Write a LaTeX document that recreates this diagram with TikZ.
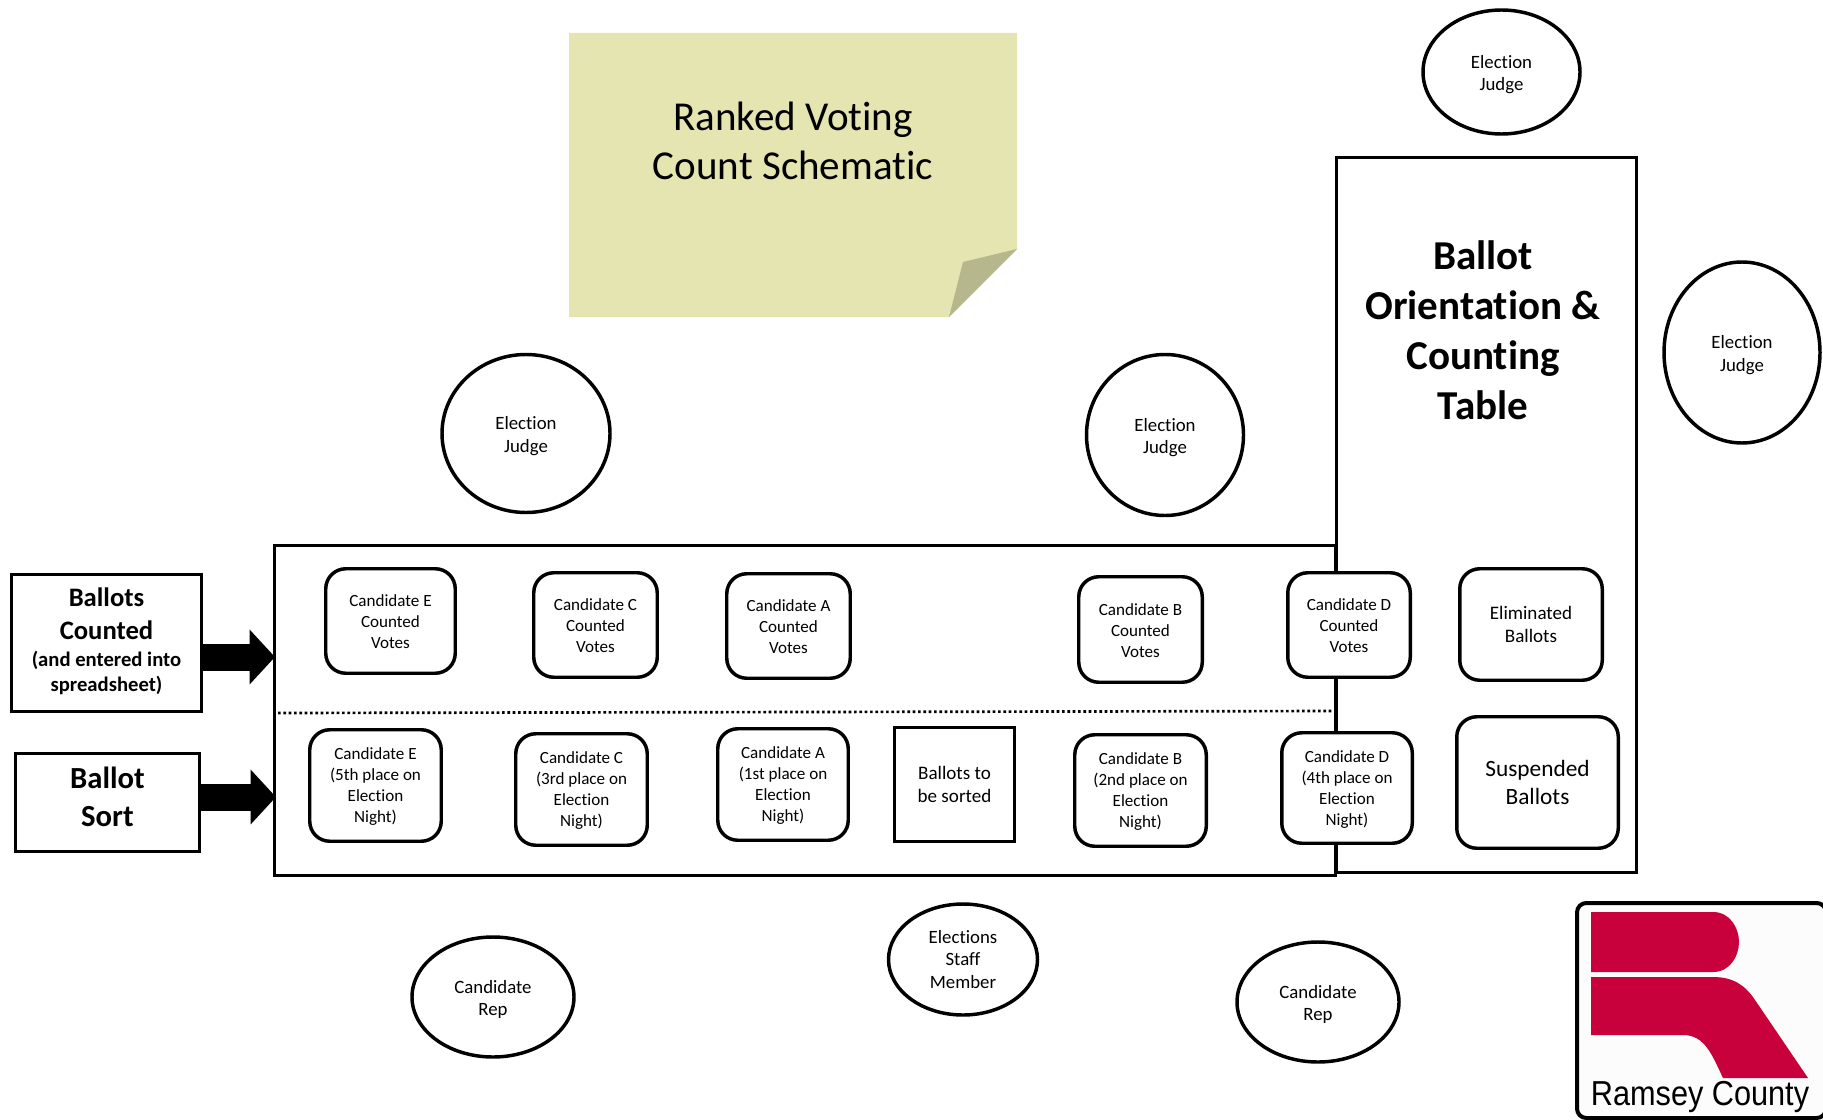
\documentclass[tikz,border=0pt]{standalone}
\usepackage{fontspec}
\setmainfont[Ligatures=NoCommon]{Carlito}
\usetikzlibrary{shapes.geometric,arrows.meta}
\definecolor{sticky}{HTML}{E4E5B0}
\definecolor{foldc}{HTML}{B6B78C}
\definecolor{ramsey}{HTML}{C8003C}
\newcommand{\pstrut}{\rule{0pt}{13.5pt}}
\newcommand{\cstrut}{\rule{0pt}{10.5pt}}
\tikzset{
  wh/.style 2 args={minimum width=(#1-1.5)*0.75pt,minimum height=(#2-1.5)*0.75pt},
  pwh/.style 2 args={minimum width=#1*0.75pt,minimum height=#2*0.75pt},
  every node/.style={inner sep=0pt,outer sep=0pt,align=center},
  heavy/.style={draw=black,line width=2.6pt},
  tablebox/.style={draw=black,line width=2.5pt,fill=white,rectangle},
  cbox/.style={heavy,fill=white,rectangle,rounded corners=15pt,font=\fontsize{12.8}{15.75}\selectfont},
  person/.style={heavy,fill=white,ellipse,font=\fontsize{14.1}{17}\selectfont},
  mid/.style={font=\fontsize{14.3}{17.3}\selectfont},
  bigarrow/.style={line width=20.25pt,-{Triangle[length=19pt,width=40pt]}},
}
\begin{document}
\begin{tikzpicture}[x=0.75pt,y=-0.75pt]
\useasboundingbox (0,0) rectangle (1823,1120);
% sticky note
\fill[sticky] (569,33) -- (1017,33) -- (1017,249) -- (949,317) -- (569,317) -- cycle;
\fill[foldc] (1017,249) -- (963,262) -- (949,317) -- cycle;
\node[font=\fontsize{30.8}{36.75}\selectfont] (title) at (793,140.5) {Ranked Voting\\Count Schematic};
% tables
\node[tablebox,wh={301}{716}] (orient) at (1486.5,515) {};
\node[tablebox,wh={1062}{331}] (main) at (805,710.5) {};
\node[font=\fontsize{30.8}{37.5}\bfseries\selectfont] (orienttxt) at (1483,330.5) {Ballot\\Orientation \&\\Counting\\Table};
% divider
\coordinate (divl) at (278,713);
\coordinate (divr) at (1336,711);
\draw[line width=2pt,dash pattern=on 2pt off 2pt] (divl) -- (divr);
% counted votes
\node[cbox,wh={131}{106}] (ev) at (390.5,621) {\cstrut Candidate E\\Counted\\Votes};
\node[cbox,wh={125}{106}] (cv) at (595.5,625) {\cstrut Candidate C\\Counted\\Votes};
\node[cbox,wh={125}{106}] (av) at (788.5,626) {\cstrut Candidate A\\Counted\\Votes};
\node[cbox,wh={125}{107}] (bv) at (1140.5,629.5) {\cstrut Candidate B\\Counted\\Votes};
\node[cbox,wh={124}{106}] (dv) at (1349,625) {\cstrut Candidate D\\Counted\\Votes};
\node[cbox,mid,wh={144}{113}] (elim) at (1531,624.5) {Eliminated\\Ballots};
% sort row
\node[cbox,wh={133}{113}] (es) at (375.5,785.5) {\cstrut Candidate E\\(5th place on\\Election\\Night)};
\node[cbox,wh={133}{113}] (cs) at (581.5,789.5) {\cstrut Candidate C\\(3rd place on\\Election\\Night)};
\node[cbox,wh={132}{113}] (as) at (783,784.5) {\cstrut Candidate A\\(1st place on\\Election\\Night)};
\node[tablebox,mid,wh={121}{115}] (sorted) at (954.5,784.5) {Ballots to\\be sorted};
\node[cbox,wh={133}{113}] (bs) at (1140.5,790.5) {\cstrut Candidate B\\(2nd place on\\Election\\Night)};
\node[cbox,wh={132}{112}] (ds) at (1347,788) {\cstrut Candidate D\\(4th place on\\Election\\Night)};
\node[cbox,wh={163}{133},font=\fontsize{17.5}{21.2}\selectfont] (susp) at (1537.5,782.5) {Suspended\\Ballots};
% left labels
\node[tablebox,wh={191}{138},font=\fontsize{20}{24.75}\bfseries\selectfont] (bc) at (106.5,643) {Ballots\\Counted\\[-4pt]{\fontsize{15.5}{18.75}\selectfont (and entered into}\\[-6pt]{\fontsize{15.5}{18.75}\selectfont spreadsheet)\rule[-5pt]{0pt}{5pt}}};
\node[tablebox,wh={185}{99},font=\fontsize{23}{28.5}\bfseries\selectfont] (bsort) at (107.5,802.5) {Ballot\\Sort\rule[-8pt]{0pt}{8pt}};
\coordinate (a1s) at (202,657);
\coordinate (a1t) at (275,657);
\coordinate (a2s) at (200,797);
\coordinate (a2t) at (276,797);
\draw[bigarrow] (a1s) -- (a1t);
\draw[bigarrow] (a2s) -- (a2t);
% people
\node[person,pwh={157}{124}] (j1) at (1501.5,72) {\pstrut Election\\Judge};
\node[person,pwh={156}{181}] (j2) at (1742,352.5) {\pstrut Election\\Judge};
\node[person,pwh={168}{158}] (j3) at (526,433.5) {\pstrut Election\\Judge};
\node[person,pwh={157}{161}] (j4) at (1165,435) {\pstrut Election\\Judge};
\node[person,pwh={162}{120}] (r1) at (493,997) {\pstrut Candidate\\Rep};
\node[person,pwh={149}{111}] (st) at (963,959.5) {Elections\\Staff\\Member};
\node[person,pwh={162}{120}] (r2) at (1318,1002) {\pstrut Candidate\\Rep};
% logo
\draw[line width=3pt,fill=white!99!black,rounded corners=7pt] (1577,903) rectangle (1826,1118);
\fill[ramsey] (1591,912) -- (1713,912) .. controls (1730,912) and (1739,928) .. (1739,942) .. controls (1739,956) and (1730,972) .. (1713,972) -- (1591,972) -- cycle;
\fill[ramsey] (1591,977) -- (1713,977) .. controls (1733,977) and (1745,985) .. (1755,1000) -- (1808,1078) -- (1723,1078) .. controls (1712,1055) and (1705,1035) .. (1683,1035) -- (1591,1035) -- cycle;
\node[font=\fontsize{26}{30}\selectfont\fontspec{Liberation Sans},anchor=base,xscale=0.885] (county) at (1700,1105) {Ramsey County};
\end{tikzpicture}
\end{document}
